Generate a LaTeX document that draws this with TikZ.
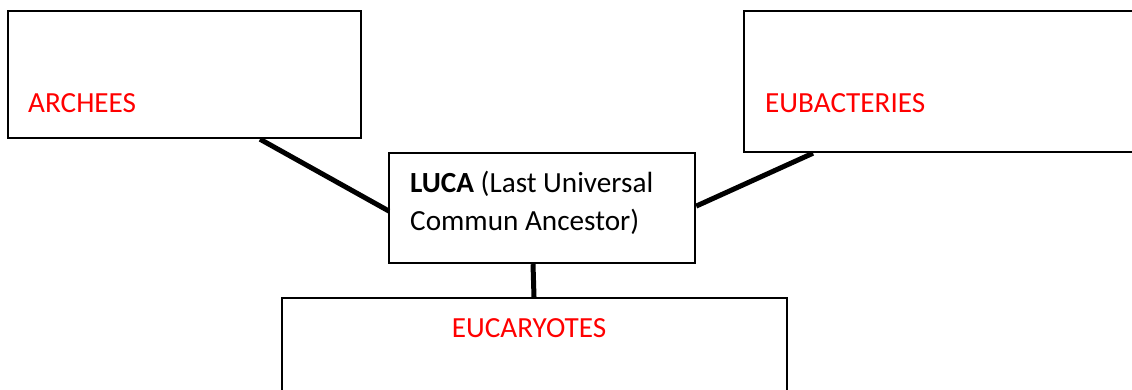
\documentclass[tikz,border=0pt]{standalone}
\usepackage{fontspec}
\setmainfont{Carlito}
\usetikzlibrary{calc}
\begin{document}
\begin{tikzpicture}[x=1pt,y=1pt,
  box/.style={draw=black, line width=2.2pt, rectangle, inner sep=0pt, anchor=north west, fill=white},
  lbl/.style={text=red, font=\fontsize{29.2}{34}\selectfont, inner sep=0pt, anchor=base west},
  link/.style={draw=black, line width=5pt}]
\useasboundingbox (0,0) rectangle (1132,389);
\clip (0,0) rectangle (1132,389);
% boxes
\node[box, minimum width=353pt, minimum height=127pt] (arch) at (7,379) {};
\node[box, minimum width=400pt, minimum height=141pt] (eub) at (743,379) {};
\node[box, minimum width=306pt, minimum height=110pt] (luca) at (388,237) {};
\node[box, minimum width=505pt, minimum height=103pt] (euca) at (281,92) {};
% connectors
\draw[link] ($(arch.south west)+(253,0)$) -- ($(luca.west)+(1,-3)$);
\draw[link] ($(eub.south west)+(70,0)$) -- ($(luca.east)+(0,2)$);
\draw[link] ($(luca.south west)+(145,0)$) -- ($(euca.north west)+(253,0)$);
% texts
\node[lbl] (tarch) at ($(arch.south west)+(21,27)$) {ARCHEES};
\node[lbl] (teub) at ($(eub.south west)+(22,41)$) {EUBACTERIES};
\node[lbl, anchor=base] (teuca) at ($(euca.north west)+(248,-40)$) {EUCARYOTES};
\node[inner sep=0pt, anchor=base west, align=left, font=\fontsize{29.2}{38}\selectfont] (tluca) at ($(luca.north west)+(22,-78)$) {\textbf{LUCA} (Last Universal\\Commun Ancestor)};
\end{tikzpicture}
\end{document}
